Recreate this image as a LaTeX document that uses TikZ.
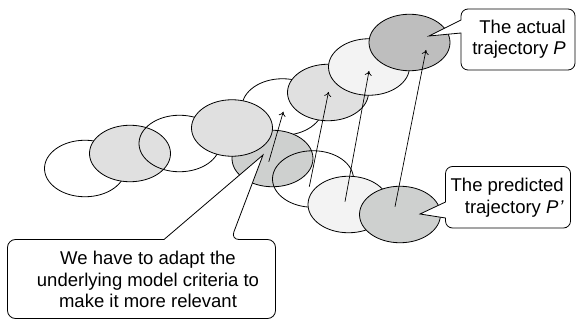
\documentclass[tikz,border=0pt]{standalone}
\usepackage{fontspec}
\setmainfont{Liberation Sans}
\usetikzlibrary{shapes.geometric}
\usetikzlibrary{arrows.meta}

\definecolor{darkfill}{RGB}{190,190,190}
\definecolor{midfill}{RGB}{206,208,207}
\definecolor{lightfill}{RGB}{224,224,224}
\definecolor{palefill}{RGB}{243,243,243}

\begin{document}
\begin{tikzpicture}[x=1pt,y=-1pt,
  blob/.style={draw,ellipse,line width=0.8pt,minimum width=81pt,minimum height=56.5pt,inner sep=0pt},
  callout/.style={draw,fill=white,line width=0.8pt},
  txt/.style={font=\fontsize{18.5}{21.5}\selectfont,inner sep=0pt},
  shiftarrow/.style={line width=0.7pt,-{To[length=4.5pt,width=7pt]}}]
  \useasboundingbox (0,0) rectangle (577,320);

  % actual trajectory P and predicted trajectory P'
  \node[blob,fill=white] (a1) at (85,168.5) {};
  \node[blob,fill=lightfill] (a2) at (130,153.5) {};
  \node[blob] (a3) at (179.5,143.5) {};
  \node[blob,fill=white] (a5) at (282.5,107) {};
  \node[blob,fill=midfill] (p1) at (272.5,158.5) {};
  \node[blob,fill=lightfill] (a4) at (232,128) {};
  \node[blob,fill=lightfill] (a6) at (328,92.5) {};
  \node[blob,fill=palefill] (a7) at (369,67) {};
  \node[blob,fill=darkfill] (a8) at (409.5,42.5) {};
  \node[blob] (p2) at (313,179) {};
  \node[blob,fill=palefill] (p3) at (348.5,204.5) {};
  \node[blob,fill=midfill] (p4) at (400,214.5) {};

  \coordinate (s1) at (268.8,161.7);
  \coordinate (t1) at (283.3,111.7);
  \coordinate (s2) at (309.3,186.7);
  \coordinate (t2) at (328.5,92);
  \coordinate (s3) at (345,201.7);
  \coordinate (t3) at (369,71);
  \coordinate (s4) at (395,206.7);
  \coordinate (t4) at (426,50);
  \draw[shiftarrow](s1)--(t1);
  \draw[shiftarrow](s2)--(t2);
  \draw[shiftarrow](s3)--(t3);
  \draw[shiftarrow](s4)--(t4);

  % callouts
  \draw[callout,rounded corners=7pt] (461,50) -- (461,70) -- (575,70) -- (575,9) -- (461,9)
    [sharp corners] -- (461,20) -- (429,36) -- (461,33) -- cycle;
  \node[txt,anchor=base east,align=right] (actual) at (566,55) {The actual\\trajectory \textit{P}};

  \draw[callout,rounded corners=7pt] (445.5,190) -- (445.5,166.5) -- (570.5,166.5) -- (570.5,228) -- (445.5,228)
    [sharp corners] -- (445.5,218) -- (420,214) -- (445.5,202) -- cycle;
  \node[txt,anchor=base east,align=right] (predicted) at (564,213.3) {The predicted\\trajectory \textit{P\kern1pt’}};

  \draw[callout,rounded corners=8pt] (100,239.5) -- (7.5,239.5) -- (7.5,318.5) -- (275.5,318.5) -- (275.5,239.5) -- (231,239.5)
    [sharp corners] -- (263,155) -- (164,239.5) -- cycle;
  \node[txt,anchor=base,align=center] (adapt) at (148,307.7) {We have to adapt the\\underlying model criteria to\\make it more relevant};
\end{tikzpicture}
\end{document}
